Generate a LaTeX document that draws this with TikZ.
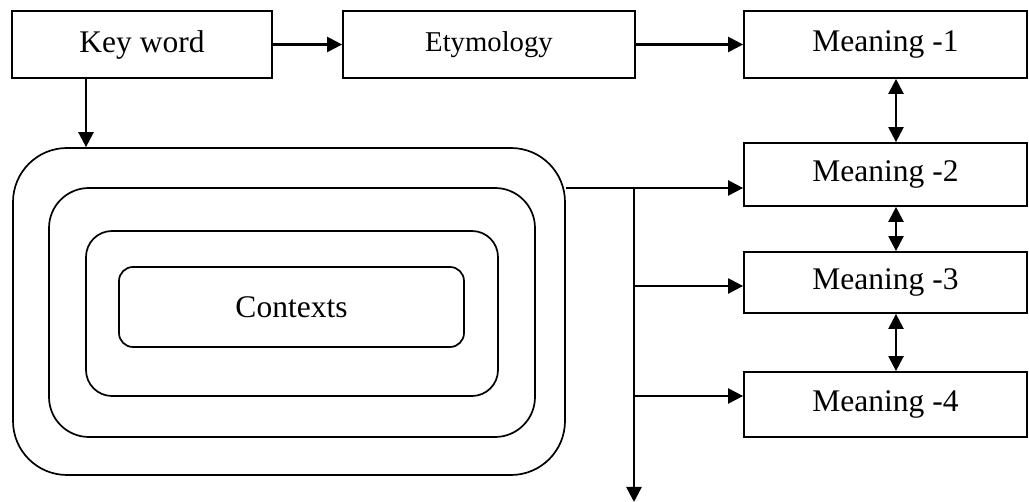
\documentclass[tikz,border=0pt]{standalone}
\usepackage{fontspec}
\setmainfont{Liberation Serif}
\usetikzlibrary{arrows.meta}
\begin{document}
\begin{tikzpicture}[x=1pt,y=-1pt,
  box/.style={draw,line width=1.8pt,rectangle,inner sep=0pt,font=\fontsize{31.5}{36}\selectfont},
  rbox/.style={draw,line width=1.7pt,rectangle,inner sep=0pt},
  arr/.style={line width=2.4pt,-{Triangle[length=15pt,width=15pt]}},
  darr/.style={line width=2.4pt,{Triangle[length=15pt,width=15pt]}-{Triangle[length=15pt,width=15pt]}},
  plain/.style={line width=2.4pt}]
\useasboundingbox (0,0) rectangle (1029,502);
% top row
\node[box,minimum width=260pt,minimum height=67pt] (kw) at (142,44.5) {Key word};
\node[box,minimum width=292pt,minimum height=67pt,font=\fontsize{28.7}{33}\selectfont] (ety) at (489,44.5) {Etymology};
\node[box,minimum width=283pt,minimum height=67pt] (m1) at (885.5,44.5) {Meaning -1};
\node[box,minimum width=283pt,minimum height=63pt] (m2) at (885.5,174.5) {Meaning -2};
\node[box,minimum width=283pt,minimum height=61pt] (m3) at (885.5,282.5) {Meaning -3};
\node[box,minimum width=283pt,minimum height=65pt] (m4) at (885.5,404.5) {Meaning -4};
% nested contexts
\node[rbox,rounded corners=54pt,minimum width=552pt,minimum height=327pt] (c1) at (289,311.5) {};
\node[rbox,rounded corners=40pt,minimum width=486pt,minimum height=249pt] (c2) at (292,312.5) {};
\node[rbox,rounded corners=26pt,minimum width=412pt,minimum height=165pt] (c3) at (292,313.5) {};
\node[rbox,rounded corners=14pt,minimum width=345pt,minimum height=80pt,font=\fontsize{31.5}{36}\selectfont] (c4) at (291.5,307) {Contexts};
% connectors
\coordinate (kd) at (86,0);
\coordinate (dx) at (896,0);
\coordinate (j) at (634,188);
\coordinate (b3) at (634,286);
\coordinate (b4) at (634,396);
\coordinate (jend) at (634,502);
\draw[arr] (kw.east) -- (ety.west);
\draw[arr] (ety.east) -- (m1.west);
\draw[arr] (kw.south -| kd) -- (c1.north -| kd);
\draw[darr] (m1.south -| dx) -- (m2.north -| dx);
\draw[darr] (m2.south -| dx) -- (m3.north -| dx);
\draw[darr] (m3.south -| dx) -- (m4.north -| dx);
\draw[plain] (c1.east |- j) -- (j);
\draw[arr] (j) -- (m2.west |- j);
\draw[arr] (j) -- (jend);
\draw[arr] (b3) -- (m3.west |- b3);
\draw[arr] (b4) -- (m4.west |- b4);
\end{tikzpicture}
\end{document}
